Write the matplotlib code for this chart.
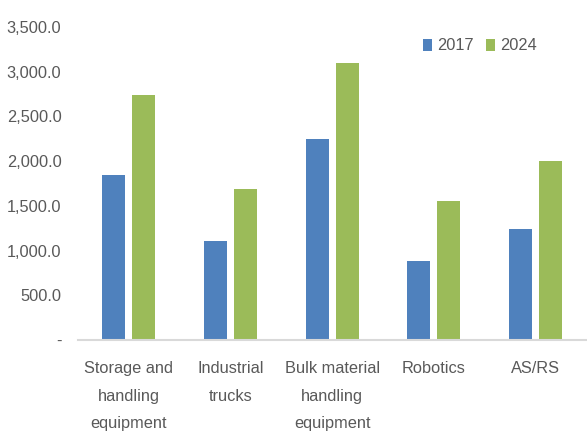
import matplotlib.pyplot as plt
import numpy as np
from matplotlib.ticker import FuncFormatter

categories = ['Storage and\nhandling\nequipment', 'Industrial\ntrucks',
              'Bulk material\nhandling\nequipment', 'Robotics', 'AS/RS']
values_2017 = [1850, 1105, 2250, 880, 1240]
values_2024 = [2735, 1690, 3095, 1550, 2000]
yticks = [0, 500, 1000, 1500, 2000, 2500, 3000, 3500]

plt.rcParams['font.family'] = ['Liberation Sans', 'DejaVu Sans']
text_color = '#595959'
fs = 11.8

fig = plt.figure(figsize=(5.87, 4.36), dpi=100)
ax = fig.add_axes([0.133, 0.22, 0.866, 0.718])

x = np.arange(len(categories))
w = 0.226
ax.bar(x - 0.148, values_2017, w, color='#4f81bd', label='2017')
ax.bar(x + 0.148, values_2024, w, color='#9bbb59', label='2024')

ax.set_xlim(-0.5, len(categories) - 0.5)
ax.set_ylim(0, 3500)
ax.set_yticks(yticks)
ax.yaxis.set_major_formatter(FuncFormatter(lambda v, p: '-' if v == 0 else f'{v:,.1f}'))
ax.set_xticks(x)
ax.set_xticklabels(categories, linespacing=2.05)
ax.tick_params(length=0, labelsize=fs, colors=text_color)
ax.tick_params(axis='x', pad=15)
ax.tick_params(axis='y', pad=12)

for s in ['top', 'right', 'left']:
    ax.spines[s].set_visible(False)
ax.spines['bottom'].set_color('#d9d9d9')
ax.spines['bottom'].set_linewidth(1.5)

leg = fig.legend(loc='center left', bbox_to_anchor=(423 / 587, 1 - 46 / 436), ncol=2,
                 frameon=False, fontsize=fs, handlelength=0.55, handleheight=0.8,
                 handletextpad=0.3, columnspacing=0.75, borderpad=0, borderaxespad=0,
                 labelcolor=text_color)

plt.savefig('out.png', dpi=100)
